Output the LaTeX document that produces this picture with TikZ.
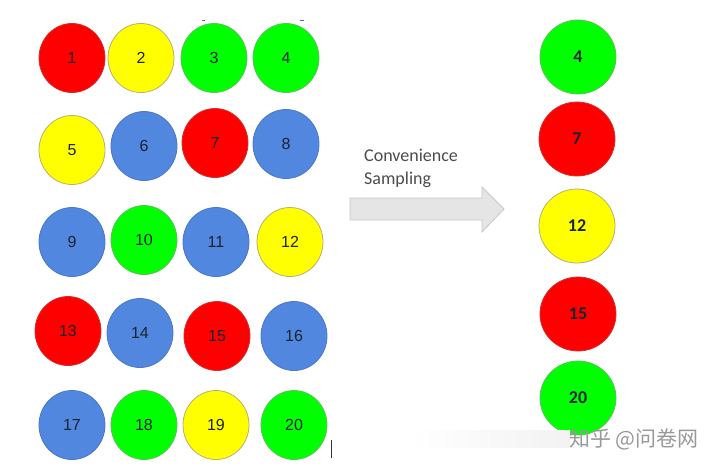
\documentclass[tikz,border=0pt]{standalone}
\usepackage{fontspec}
\setmainfont{Liberation Sans}
\newfontfamily\calib{Carlito}
\newfontfamily\cjk{Noto Sans CJK SC}
\usetikzlibrary{shapes.geometric}
\definecolor{cred}{HTML}{FF0000}
\definecolor{cyel}{HTML}{FFFF00}
\definecolor{cgrn}{HTML}{00FF00}
\definecolor{cblu}{HTML}{5287E0}
\definecolor{bred}{HTML}{D03030}
\definecolor{byel}{HTML}{B8B070}
\definecolor{bgrn}{HTML}{60C060}
\definecolor{bblu}{HTML}{4A78C8}
\definecolor{numtxt}{HTML}{1A2430}
\tikzset{
  ball/.style={ellipse, minimum width=66pt, minimum height=69pt, inner sep=0pt, line width=0.8pt, text=numtxt, font=\fontsize{16}{16}\selectfont},
  rball/.style={ellipse, minimum width=76pt, minimum height=74pt, inner sep=0pt, line width=0.8pt, text=numtxt, font=\calib\bfseries\fontsize{18}{18}\selectfont},
  R/.style={fill=cred, draw=bred},
  Y/.style={fill=cyel, draw=byel},
  G/.style={fill=cgrn, draw=bgrn},
  B/.style={fill=cblu, draw=bblu},
}
\begin{document}
\begin{tikzpicture}[x=1pt,y=-1pt]
\useasboundingbox (0,0) rectangle (720,475);
\fill[white] (0,0) rectangle (720,475);
% row 1
\node[ball,R] (n1) at (72,58) {1};
\node[ball,Y] (n2) at (141,58) {2};
\node[ball,G] (n3) at (214,58) {3};
\node[ball,G] (n4) at (286,58) {4};
% row 2
\node[ball,Y] (n5) at (72,150) {5};
\node[ball,B] (n6) at (144,146) {6};
\node[ball,R] (n7) at (215,143) {7};
\node[ball,B] (n8) at (286,144) {8};
% row 3
\node[ball,B] (n9) at (72,242) {9};
\node[ball,G] (n10) at (144,240) {10};
\node[ball,B] (n11) at (216,242) {11};
\node[ball,Y] (n12) at (290,242) {12};
% row 4
\node[ball,R] (n13) at (68,331) {13};
\node[ball,B] (n14) at (140,333) {14};
\node[ball,R] (n15) at (217,336) {15};
\node[ball,B] (n16) at (294,336) {16};
% row 5
\node[ball,B] (n17) at (72,425) {17};
\node[ball,G] (n18) at (144,425) {18};
\node[ball,Y] (n19) at (216,425) {19};
\node[ball,G] (n20) at (294,425) {20};
% cursor mark
\draw[line width=0.8pt, black!80] (331,440) -- (331,458);
% tiny marks at top
\draw[line width=0.6pt, black!60] (202,20) -- (205,20);
\draw[line width=0.6pt, black!60] (300,20) -- (304,20);
% arrow
\draw[fill=black!10, draw=black!22, line width=0.8pt] (350,198) -- (482,198) -- (482,187) -- (504,209) -- (482,232) -- (482,220) -- (350,220) -- cycle;
\node[anchor=west, inner sep=0pt, text=black!70, font=\calib\fontsize{18}{18}\selectfont] (lab1) at (364,155) {Convenience};
\node[anchor=west, inner sep=0pt, text=black!70, font=\calib\fontsize{18}{18}\selectfont] (lab2) at (364,180) {Sampling};
% right column
\node[rball,G] (m4) at (578,57) {4};
\node[rball,R] (m7) at (577,139) {7};
\node[rball,Y] (m12) at (577,226) {12};
\node[rball,R] (m15) at (578,314) {15};
\node[rball,G] (m20) at (578,398) {20};
% watermark
\fill[left color=white, right color=black!5] (410,430) rectangle (570,447);
\node[anchor=west, inner sep=0pt, text=black!40, font=\cjk\fontsize{21}{21}\selectfont] (wm) at (569,439) {知乎 @问卷网};
\end{tikzpicture}
\end{document}
